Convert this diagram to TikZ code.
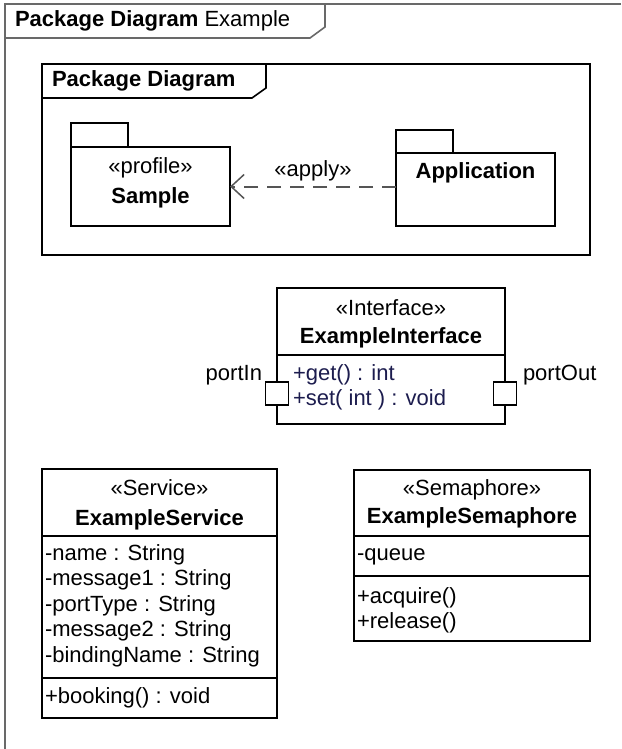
\documentclass[tikz,border=0pt]{standalone}
\usepackage{fontspec}
\setmainfont{Liberation Sans}
\usetikzlibrary{arrows.meta}
\definecolor{framegray}{RGB}{105,105,105}
\definecolor{depgray}{RGB}{85,85,85}
\definecolor{opnavy}{RGB}{28,28,78}

\begin{document}
\begin{tikzpicture}[x=1pt, y=-1pt,
	every node/.style={font=\fontsize{22}{26}\selectfont, inner sep=0pt, outer sep=0pt},
	umlbox/.style={shape=rectangle, draw, line width=1.6pt},
	sepline/.style={line width=1.6pt},
	dep/.style={draw=depgray, line width=2pt, dash pattern=on 14pt off 9pt, -{Straight Barb[length=13pt, width=24pt, line width=1.5pt]}}]
	\useasboundingbox (0,0) rectangle (621,749);
	% Frames:
	\draw[framegray, line width=1.6pt] (621,4) -- (5,4) -- (5,749);
	\draw[framegray, line width=1.6pt] (5,38) -- (310,38) -- (325,27) -- (325,4);
	\node[anchor=base west] (title) at (15,27) {\textbf{Package Diagram} Example};
	\draw[sepline] (42,64) rectangle (590,255);
	\draw[sepline] (42,98) -- (252,98) -- (266,88) -- (266,64);
	\node[anchor=base west] (pkgtitle) at (52,87) {\textbf{Package Diagram}};
	% Packages and dependency:
	\node[umlbox, minimum width=57pt, minimum height=24pt] (sampletab) at (99.5,135) {};
	\node[umlbox, minimum width=159pt, minimum height=79pt] (sample) at (150.5,186.5) {};
	\node[anchor=base] (samplest) at (150.5,173) {«profile»};
	\node[anchor=base] (samplename) at (150.5,203) {\textbf{Sample}};
	\node[umlbox, minimum width=57pt, minimum height=23pt] (apptab) at (424.5,141.5) {};
	\node[umlbox, minimum width=159pt, minimum height=73pt] (app) at (475.5,189.5) {};
	\node[anchor=base] (appname) at (475.5,178) {\textbf{Application}};
	\draw[dep] (app.west |- sample.east) -- (sample.east);
	\node[anchor=base] (applylbl) at (313,176) {«apply»};
	% Interface with ports:
	\node[umlbox, minimum width=228pt, minimum height=136pt] (iface) at (391,356) {};
	\draw[sepline] (iface.west |- 0,355) -- (iface.east |- 0,355);
	\node[anchor=base] (ifacest) at (391,315) {«Interface»};
	\node[anchor=base] (ifacename) at (391,343) {\textbf{ExampleInterface}};
	\node[anchor=base west, text=opnavy] (opget) at (293,380) {+get() : int};
	\node[anchor=base west, text=opnavy] (opset) at (293,405) {+set( int ) : void};
	\node[umlbox, fill=white, minimum size=23pt] (portin) at (277,393.5) {};
	\node[umlbox, fill=white, minimum size=23pt] (portout) at (505,393.5) {};
	\node[anchor=base east] (portinlbl) at (262,380) {portIn};
	\node[anchor=base west] (portoutlbl) at (523,380) {portOut};
	% Service class:
	\node[umlbox, minimum width=235pt, minimum height=249pt] (service) at (159.5,593.5) {};
	\draw[sepline] (service.west |- 0,536) -- (service.east |- 0,536);
	\draw[sepline] (service.west |- 0,678) -- (service.east |- 0,678);
	\node[anchor=base] (servicest) at (159.5,495) {«Service»};
	\node[anchor=base] (servicename) at (159.5,525) {\textbf{ExampleService}};
	\node[anchor=base west] (attrname) at (45,560) {-name : String};
	\node[anchor=base west] (attrmsg1) at (45,585.5) {-message1 : String};
	\node[anchor=base west] (attrport) at (45,611) {-portType : String};
	\node[anchor=base west] (attrmsg2) at (45,636.5) {-message2 : String};
	\node[anchor=base west] (attrbind) at (45,662) {-bindingName : String};
	\node[anchor=base west] (opbook) at (45,703) {+booking() : void};
	% Semaphore class:
	\node[umlbox, minimum width=236pt, minimum height=171pt] (sema) at (472,555.5) {};
	\draw[sepline] (sema.west |- 0,536) -- (sema.east |- 0,536);
	\draw[sepline] (sema.west |- 0,576) -- (sema.east |- 0,576);
	\node[anchor=base] (semast) at (472,495) {«Semaphore»};
	\node[anchor=base] (semaname) at (472,523) {\textbf{ExampleSemaphore}};
	\node[anchor=base west] (attrqueue) at (357,560) {-queue};
	\node[anchor=base west] (opacq) at (357,603) {+acquire()};
	\node[anchor=base west] (oprel) at (357,628) {+release()};
\end{tikzpicture}
\end{document}
